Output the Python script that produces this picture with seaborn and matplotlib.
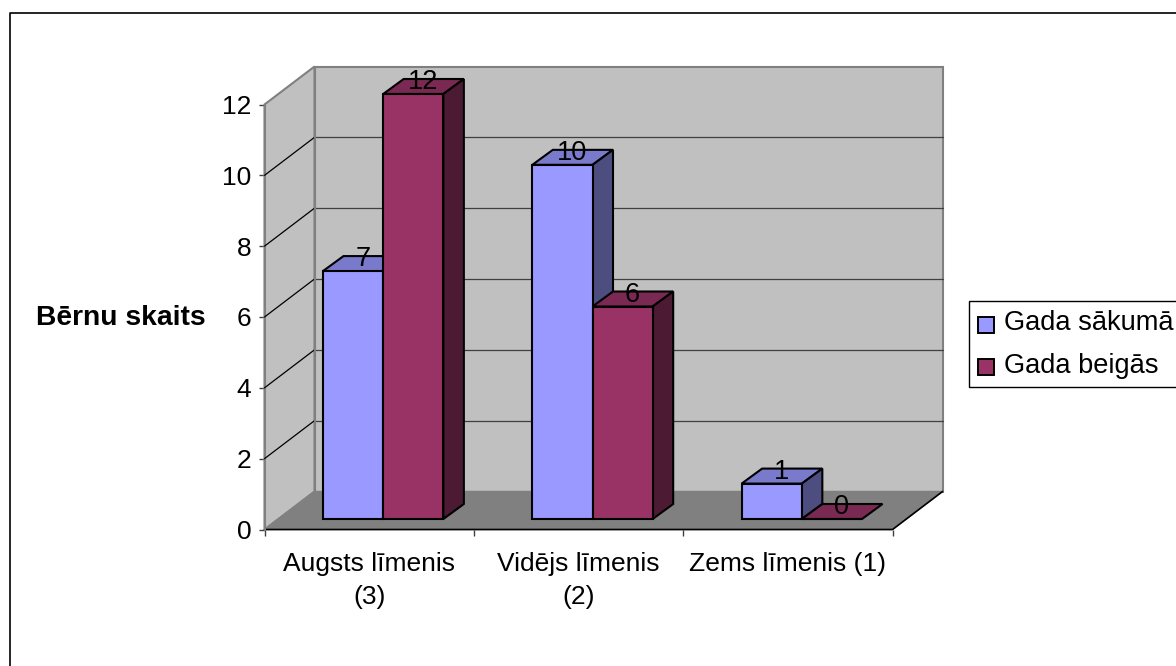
import matplotlib

matplotlib.use("Agg")
import matplotlib.pyplot as plt
import pandas as pd
import seaborn as sns
from matplotlib.lines import Line2D
from matplotlib.patches import Polygon, Rectangle
from matplotlib.transforms import Affine2D

# data
categories = ["Augsts līmenis\n(3)", "Vidējs līmenis\n(2)", "Zems līmenis (1)"]
series_names = ["Gada sākumā", "Gada beigās"]
start_values = [7, 10, 1]
end_values = [12, 6, 0]
y_ticks = [0, 2, 4, 6, 8, 10, 12]

# excel 2003 look
FRONT_COLORS = ["#9999FF", "#993366"]
TOP_COLORS = ["#7A7ACC", "#7A2952"]
SIDE_COLORS = ["#4D4D80", "#4D1A33"]
WALL_COLOR = "#C0C0C0"
FLOOR_COLOR = "#808080"
EDGE_GREY = "#808080"
FONT_SIZE = 19

W, H = 1176, 666
DPI = 100
# front plane of the box in pixels (y from top)
LEFT, RIGHT, TOP, BOTTOM = 264.5, 892.5, 104.5, 529.5
# depth of the box and of one bar, and where bars sit inside the box
BOX_DX, BOX_DY = 50, 38
BAR_DX, BAR_DY = 20.5, 15
SHIFT_X, SHIFT_Y = 14, 10.5

sns.set_style("white")
plt.rcParams["font.family"] = ["Liberation Sans", "DejaVu Sans"]
plt.rcParams["text.color"] = "black"
plt.rcParams["ytick.color"] = "black"
plt.rcParams["ytick.labelcolor"] = "black"

fig = plt.figure(figsize=(W / DPI, H / DPI), dpi=DPI, facecolor="white")
ax = fig.add_axes(
    [LEFT / W, 1 - BOTTOM / H, (RIGHT - LEFT) / W, (BOTTOM - TOP) / H],
    facecolor="none",
)

df = pd.DataFrame(
    {
        "Level": categories * 2,
        "Series": [series_names[0]] * 3 + [series_names[1]] * 3,
        "Count": start_values + end_values,
    }
)

sns.barplot(
    data=df,
    x="Level",
    y="Count",
    hue="Series",
    palette=FRONT_COLORS,
    saturation=1,
    width=0.575,
    gap=0,
    edgecolor="black",
    linewidth=1.5,
    legend=False,
    zorder=5,
    ax=ax,
)
ax.set_xlim(-0.5, 2.5)
ax.set_ylim(0, 12)
ax.set_xlabel("")
ax.set_ylabel("")


def box_offset(dx, dy):
    # pixel offset in display space (figure is saved at same dpi)
    return ax.transData + Affine2D().translate(dx, dy)


# --- the box: walls, floor, gridlines ---
back = box_offset(BOX_DX, BOX_DY)
x0, x1 = ax.get_xlim()
ax.add_patch(
    Rectangle(
        (x0, 0), x1 - x0, 12, transform=back, facecolor=WALL_COLOR,
        edgecolor=EDGE_GREY, linewidth=1.5, clip_on=False, zorder=1,
    )
)

# side wall and floor are corner pairs, front plane to back plane
to_px = ax.transData.transform
ll, lt = to_px((x0, 0)), to_px((x0, 12))
rl = to_px((x1, 0))
d = (BOX_DX, BOX_DY)
pix = None
ax.add_patch(
    Polygon(
        [ll, lt, lt + d, ll + d], transform=pix, facecolor=WALL_COLOR,
        edgecolor=EDGE_GREY, linewidth=1.5, clip_on=False, zorder=1,
    )
)
ax.add_patch(
    Polygon(
        [ll, rl, rl + d, ll + d], transform=pix, facecolor=FLOOR_COLOR,
        edgecolor=FLOOR_COLOR, linewidth=1, clip_on=False, zorder=1,
    )
)
# floor front and right edge are black
ax.add_line(Line2D([ll[0], rl[0], rl[0] + BOX_DX], [ll[1], rl[1], rl[1] + BOX_DY],
                   transform=pix, color="black", linewidth=1.2, clip_on=False, zorder=2))
ax.add_line(Line2D([ll[0], lt[0]], [ll[1], lt[1]], transform=pix,
                   color=EDGE_GREY, linewidth=1.5, clip_on=False, zorder=2))

for v in y_ticks[1:-1]:
    p = to_px((x0, v))
    ax.add_line(Line2D([p[0], p[0] + BOX_DX], [p[1], p[1] + BOX_DY], transform=pix,
                       color="black", linewidth=0.9, clip_on=False, zorder=2))
    ax.plot([x0, x1], [v, v], transform=back, color="#404040", linewidth=0.9,
            clip_on=False, zorder=2)
ax.plot([x0, x0], [0, 12], transform=back, color=EDGE_GREY, linewidth=1.5,
        clip_on=False, zorder=2)

# --- 3d bars: shift barplot's rectangles and add top and side faces ---
bar_transform = box_offset(SHIFT_X, SHIFT_Y)
for ci, container in enumerate(ax.containers):
    z = 4 if ci == 0 else 4.5
    for bar in container:
        bar.set_transform(bar_transform)
        bar.set_clip_on(False)
        xa, xb = bar.get_x(), bar.get_x() + bar.get_width()
        h = bar.get_height()
        a = bar_transform.transform((xa, h))
        b = bar_transform.transform((xb, h))
        c = bar_transform.transform((xb, 0))
        dd = (BAR_DX, BAR_DY)
        ax.add_patch(Polygon([a, b, b + dd, a + dd], transform=pix, facecolor=TOP_COLORS[ci],
                             edgecolor="black", linewidth=1.5, clip_on=False, zorder=z))
        if h > 0:
            ax.add_patch(Polygon([b, c, c + dd, b + dd], transform=pix, facecolor=SIDE_COLORS[ci],
                                 edgecolor="black", linewidth=1.5, clip_on=False, zorder=z))
        # value labels sit on the top face
        ax.annotate(
            str(int(h)), xy=((xa + xb) / 2, h), xycoords=bar_transform,
            xytext=(10, 5), textcoords="offset pixels", ha="center", va="baseline",
            fontsize=19.5, color="black", zorder=8, annotation_clip=False,
        )

# --- axes ---
for s in ["top", "right", "left", "bottom"]:
    ax.spines[s].set_visible(False)
ax.set_yticks(y_ticks)
ax.set_xticks([-0.5, 0.5, 1.5, 2.5], labels=[])
ax.tick_params(axis="x", bottom=True, length=4.5, width=1, color="#404040", direction="out", pad=0)
ax.tick_params(axis="y", left=True, length=4.5, width=1, color="#404040", direction="out",
               pad=5, labelsize=FONT_SIZE)

for i, label in enumerate(categories):
    ax.annotate(label, xy=(i, 0), xycoords=ax.transData, xytext=(0, -23),
                textcoords="offset pixels", ha="center", va="top", fontsize=FONT_SIZE,
                linespacing=1.45, color="black", annotation_clip=False)

fig.text(121 / W, 1 - 318 / H, "Bērnu skaits", fontsize=20.3, fontweight="bold",
         ha="center", va="center")

# legend box runs past the right edge of the picture
fig.add_artist(Rectangle((968.5 / W, 1 - 386.5 / H), 300 / W, 86 / H, transform=fig.transFigure,
                         facecolor="white", edgecolor="black", linewidth=1))
for y_px, color, name in zip([324.5, 367], FRONT_COLORS, series_names):
    fig.add_artist(Rectangle((977.5 / W, 1 - (y_px + 8) / H), 16 / W, 16 / H,
                             transform=fig.transFigure, facecolor=color,
                             edgecolor="black", linewidth=1.4))
    fig.text(1004 / W, 1 - (y_px - 1) / H, name, fontsize=19.6, ha="left", va="center")

# chart frame, open on the right and bottom where the picture is cut
fig.add_artist(Line2D([9.5 / W, 9.5 / W, 1], [0, 1 - 12.5 / H, 1 - 12.5 / H],
                      transform=fig.transFigure, color="black", linewidth=1.2))

fig.savefig("out.png", dpi=DPI)
